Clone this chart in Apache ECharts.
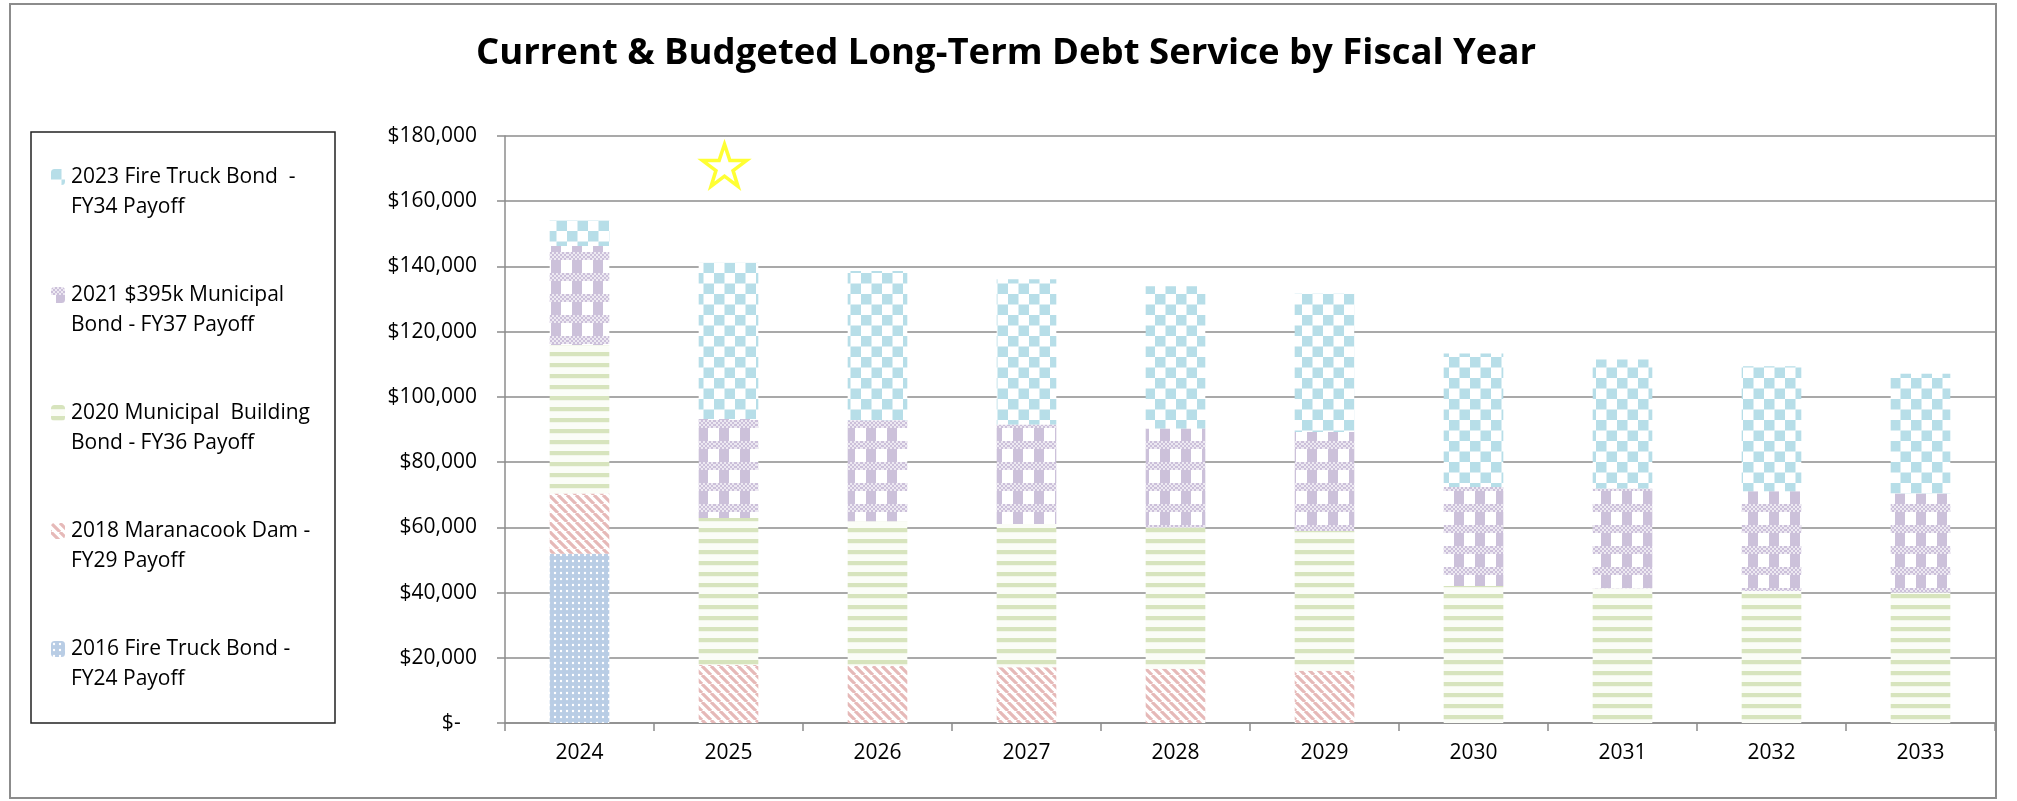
<!DOCTYPE html>
<html><head><meta charset="utf-8">
<script src="https://cdn.jsdelivr.net/npm/echarts@6/dist/echarts.min.js"></script>
<style>html,body{margin:0;padding:0;background:#fff}#c{width:2017px;height:801px}</style>
</head><body><div id="c"></div>
<script>
// ---- data ----
const years = ['2024','2025','2026','2027','2028','2029','2030','2031','2032','2033'];
const nameFireTruck2016 = '2016 Fire Truck Bond -\nFY24 Payoff';
const nameDam2018 = '2018 Maranacook Dam -\nFY29 Payoff';
const nameBuilding2020 = '2020 Municipal  Building\nBond - FY36 Payoff';
const nameBond2021 = '2021 $395k Municipal\nBond - FY37 Payoff';
const nameFireTruck2023 = '2023 Fire Truck Bond  -\nFY34 Payoff';
const fireTruck2016 = [51900, null, null, null, null, null, null, null, null, null];
const dam2018 = [18500, 17800, 17500, 17100, 16600, 16000, null, null, null, null];
const building2020 = [45500, 45100, 44400, 43900, 43400, 42900, 42000, 41300, 40500, 40000];
const bond2021 = [30400, 30300, 30900, 30500, 30300, 30300, 30400, 30600, 30600, 30400];
const fireTruck2023 = [7900, 47900, 45800, 44600, 43600, 42400, 40900, 39600, 38300, 36700];
const yMax = 180000, yStep = 20000;
const starYear = '2025', starValue = 171000;
const titleText = 'Current & Budgeted Long-Term Debt Service by Fiscal Year';

// ---- patterns ----
function mk(w, h, draw) { const c = document.createElement('canvas'); c.width = w; c.height = h; const g = c.getContext('2d'); g.fillStyle = '#fff'; g.fillRect(0,0,w,h); draw(g); return {image: c, repeat: 'repeat'}; }
const patCyan = mk(21, 21, g => { g.fillStyle = '#B7DEE8'; g.fillRect(0,0,10.5,10.5); g.fillRect(10.5,10.5,10.5,10.5); });
const patPurple = mk(21, 21, g => {
  g.fillStyle = '#CCC1DA';
  for (let y = 0; y < 8; y += 2) for (let x = 0; x < 21; x += 2) if (((x + y) / 2) % 2 === 0) g.fillRect(x, y, 2, 2);
  g.globalAlpha = 0.35; g.fillRect(0,0,21,8); g.globalAlpha = 1;
  g.fillRect(5, 8, 10, 13);
});
const patGreen = mk(8, 11, g => { g.fillStyle = '#D7E4BD'; g.fillRect(0,0,8,4.5); g.fillStyle = '#FBFDF7'; g.fillRect(0,4.5,8,6.5); });
const patRed = mk(9, 9, g => { g.strokeStyle = '#E6B9B8'; g.lineWidth = 3.2; g.beginPath();
  g.moveTo(-9,0); g.lineTo(0,9); g.moveTo(0,0); g.lineTo(9,9); g.moveTo(9,0); g.lineTo(18,9); g.stroke(); });
const patBlue = mk(6, 6, g => { g.fillStyle = '#B9CDE5'; g.fillRect(0,0,6,6); g.fillStyle = '#fff'; g.beginPath(); g.arc(3,3,1.2,0,Math.PI*2); g.fill(); });

const FONT = 'Open Sans';
const GRID = '#8c8c8c';
function barSeries(name, data, pat) {
  return { name, type: 'bar', stack: 'debt', data, barWidth: '40%', itemStyle: { color: pat }, emphasis: { disabled: true } };
}
const starPath = 'path://M50,0 L61.8,35.1 L98.1,35.1 L68.7,56.7 L79.4,90.9 L50,69.1 L20.6,90.9 L31.3,56.7 L1.9,35.1 L38.2,35.1 Z';

const chart = echarts.init(document.getElementById('c'), null, { renderer: 'canvas' });
chart.setOption({
  animation: false,
  backgroundColor: '#fff',
  title: { text: titleText, left: 1001, top: 30, textAlign: 'center',
    textStyle: { fontFamily: FONT, fontWeight: 'bold', fontSize: 36.5, color: '#000' } },
  graphic: [
    { type: 'rect', shape: { x: 10, y: 4, width: 1986, height: 794 }, style: { fill: 'none', stroke: '#8c8c8c', lineWidth: 2 }, silent: true },
    { type: 'rect', shape: { x: 31, y: 132, width: 304, height: 591 }, style: { fill: 'none', stroke: '#222', lineWidth: 1.5 }, silent: true }
  ],
  legend: {
    orient: 'vertical', left: 51, top: 132, padding: 0, itemGap: 28,
    itemWidth: 14, itemHeight: 16, selectedMode: false,
    data: [nameFireTruck2023, nameBond2021, nameBuilding2020, nameDam2018, nameFireTruck2016],
    formatter: n => ' \n' + n,
    textStyle: { fontFamily: FONT, fontSize: 21, color: '#000', lineHeight: 30, padding: [0,0,0,1] }
  },
  grid: { left: 505, right: 22, top: 136, bottom: 78, containLabel: false },
  xAxis: {
    type: 'category', data: years, boundaryGap: true,
    axisLine: { show: true, lineStyle: { color: GRID, width: 1.5 } },
    axisTick: { show: true, length: 8, lineStyle: { color: GRID, width: 1.5 } },
    axisLabel: { margin: 20, fontFamily: FONT, fontSize: 21, color: '#000' }
  },
  yAxis: {
    type: 'value', min: 0, max: yMax, interval: yStep,
    axisLine: { show: true, lineStyle: { color: GRID, width: 1.5 } },
    axisTick: { show: true, length: 8, lineStyle: { color: GRID, width: 1.5 } },
    splitLine: { show: true, lineStyle: { color: GRID, width: 1.5 } },
    axisLabel: { margin: 28, fontFamily: FONT, fontSize: 21, color: '#000',
      formatter: v => v === 0 ? '$-   ' : '$' + v.toLocaleString('en-US') }
  },
  series: [
    barSeries(nameFireTruck2016, fireTruck2016, patBlue),
    barSeries(nameDam2018, dam2018, patRed),
    barSeries(nameBuilding2020, building2020, patGreen),
    barSeries(nameBond2021, bond2021, patPurple),
    barSeries(nameFireTruck2023, fireTruck2023, patCyan),
    { name: 'star', type: 'scatter', data: [[starYear, starValue]], symbol: starPath, symbolSize: [44, 42], symbolOffset: [-4, 0],
      itemStyle: { color: 'rgba(255,255,255,0)', borderColor: '#FFFF00', borderWidth: 3.5 }, z: 5, silent: true }
  ]
});
</script></body></html>
